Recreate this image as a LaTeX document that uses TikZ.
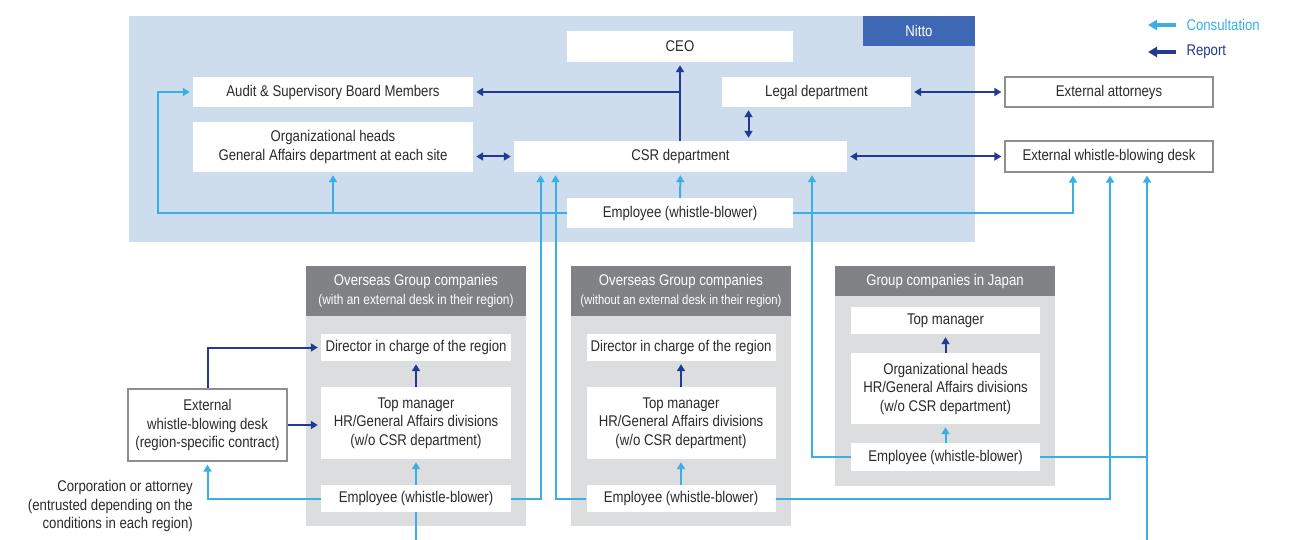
\documentclass[tikz,border=0pt]{standalone}
\usepackage{fontspec}
\setmainfont{Liberation Sans}[FakeStretch=0.85]
\usetikzlibrary{arrows.meta,positioning}
\definecolor{consultc}{HTML}{3BAEE6}
\definecolor{reportc}{HTML}{213B92}
\definecolor{nittobg}{HTML}{CEDDEE}
\definecolor{nittotag}{HTML}{3E68B3}
\definecolor{groupbg}{HTML}{DCDDDE}
\definecolor{grouphd}{HTML}{808285}
\definecolor{deskline}{HTML}{8E8E8E}
\definecolor{txt}{HTML}{2B2B2B}

\tikzset{
  unit/.style={fill=white, inner sep=0pt, align=center, text=txt},
  extbox/.style={unit, draw=deskline, line width=1.2pt},
  grp/.style={fill=groupbg, minimum width=220pt, inner sep=0pt},
  hdr/.style={fill=grouphd, text=white, minimum width=220pt, inner sep=0pt, align=center},
  consult/.style={consultc, line width=2pt, ->, shorten >=3pt},
  report/.style={reportc, line width=2pt, ->, shorten >=3pt},
  both/.style={reportc, line width=2pt, <->, shorten >=3pt, shorten <=3pt},
  plain/.style={consultc, line width=2pt},
}

\begin{document}
\begin{tikzpicture}[x=1pt, y=-1pt, node distance=75.5pt, on grid,
    >={Triangle[length=7pt,width=8pt]},
    font=\fontsize{15.5}{18.5}\selectfont]
	\useasboundingbox (0,0) rectangle (1297,540);

	% Nitto
	\node[fill=nittobg, minimum width=846pt, minimum height=226pt, inner sep=0pt] (nitto) at (552,129) {};
	\node[fill=nittotag, text=white, minimum width=112pt, minimum height=30pt, inner sep=0pt, anchor=north east] (tag) at (nitto.north east) {Nitto};
	\node[unit, minimum width=226pt, minimum height=31pt] (ceo) at (680,46.5) {CEO};
	\node[unit, minimum width=280pt, minimum height=30pt] (audit) at (333,92) {Audit \& Supervisory Board Members};
	\node[unit, minimum width=189pt, minimum height=30pt] (legal) at (816.5,92) {Legal department};
	\node[unit, minimum width=280pt, minimum height=50pt] (org) at (333,147) {Organizational heads\\General Affairs department at each site};
	\node[unit, minimum width=333pt, minimum height=31pt] (csr) at (680.5,156.5) {CSR department};
	\node[unit, minimum width=226pt, minimum height=30pt] (emp) at (680,213) {Employee (whistle-blower)};
	\node[extbox, minimum width=208pt, minimum height=30pt] (extatt) at (1109,92) {External attorneys};
	\node[extbox, minimum width=208pt, minimum height=31pt] (extdesk) at (1109,156.5) {External whistle-blowing desk};

	% legend
	\node[anchor=west, text=consultc] (lgc) at (1183,25) {Consultation};
	\node[anchor=west, text=reportc] (lgr) at (1183,52) {Report};
	\draw[consult, line width=3.5pt, shorten >=0pt, -{Triangle[length=9pt,width=10pt]}] ([xshift=-7pt]lgc.west) -- ([xshift=-35pt]lgc.west);
	\draw[report, line width=3.5pt, shorten >=0pt, -{Triangle[length=9pt,width=10pt]}] ([xshift=-7pt]lgr.west) -- ([xshift=-35pt]lgr.west);

	% overseas, with external desk
	\node[grp, minimum height=260pt] (grpA) at (416,396) {};
	\node[hdr, minimum height=50pt, anchor=north] (hdrA) at (grpA.north) {\fontsize{15.5}{19}\selectfont Overseas Group companies\\\fontsize{14}{19}\selectfont (with an external desk in their region)};
	\node[unit, minimum width=190pt, minimum height=27pt] (dirA) at (416,347.5) {Director in charge of the region};
	\node[unit, minimum width=190pt, minimum height=72pt, below=of dirA] (topA) {Top manager\\HR/General Affairs divisions\\(w/o CSR department)};
	\node[unit, minimum width=190pt, minimum height=27pt, below=of topA] (empA) {Employee (whistle-blower)};
	\node[extbox, minimum width=159pt, minimum height=72pt] (regdesk) at (207.5,425) {External\\whistle-blowing desk\\(region-specific contract)};
	\node[align=right, text=txt, anchor=east, inner sep=0pt] (corp) at (193,506) {Corporation or attorney\\(entrusted depending on the\\conditions in each region)};

	% overseas, without external desk
	\node[grp, minimum height=260pt, right=265pt of grpA] (grpB) {};
	\node[hdr, minimum height=50pt, anchor=north] (hdrB) at (grpB.north) {\fontsize{15.5}{19}\selectfont Overseas Group companies\\\fontsize{13.3}{19}\selectfont (without an external desk in their region)};
	\node[unit, minimum width=189pt, minimum height=27pt, right=265pt of dirA] (dirB) {Director in charge of the region};
	\node[unit, minimum width=189pt, minimum height=72pt, below=of dirB] (topB) {Top manager\\HR/General Affairs divisions\\(w/o CSR department)};
	\node[unit, minimum width=189pt, minimum height=27pt, below=of topB] (empB) {Employee (whistle-blower)};

	% Japan
	\node[grp, minimum height=220pt] (grpC) at (945,376) {};
	\node[hdr, minimum height=30pt, anchor=north] (hdrC) at (grpC.north) {\fontsize{15.5}{19}\selectfont Group companies in Japan};
	\node[unit, minimum width=189pt, minimum height=27pt] (topC) at (945.5,320.5) {Top manager};
	\node[unit, minimum width=189pt, minimum height=71pt, below=68pt of topC] (orgC) {Organizational heads\\HR/General Affairs divisions\\(w/o CSR department)};
	\node[unit, minimum width=189pt, minimum height=28pt, below=68.5pt of orgC] (empC) {Employee (whistle-blower)};

	\coordinate (lturn) at (158,213);
	\coordinate (outA) at (416,540);
	\coordinate (outC) at (1147,540);

	% report
	\path[report] (csr.north -| ceo.south) edge (ceo.south)
			  (topA) edge (dirA)
			  (topB) edge (dirB)
			  (orgC) edge (topC)
			  (regdesk.east) edge (regdesk.east -| topA.west);
	\draw[report] (ceo.south |- audit.east) -- (audit.east);
	\draw[report] (regdesk.north) |- (dirA.west);
	\path[both] (legal.east) edge (extatt.west)
			  (csr.east) edge (extdesk.west)
			  (csr.west) edge (csr.west -| org.east)
			  ([xshift=-68pt]legal.south) edge ([xshift=-68pt]legal.south |- csr.north);

	% consultation
	\path[consult] (emp) edge (csr)
			  (org.south |- emp.west) edge (org.south)
			  (empA) edge (topA)
			  (empB) edge (topB)
			  (empC) edge (orgC);
	\draw[consult] (emp.west) -- (lturn) |- (audit.west);
	\draw[consult] (emp.east) -| ([xshift=-36pt]extdesk.south);
	\draw[consult] (empA.west) -| (regdesk.south);
	\draw[consult] (empA.east) -| ([xshift=-140pt]csr.south);
	\draw[consult] (empB.west) -| ([xshift=-125pt]csr.south);
	\draw[consult] (empC.west) -| ([xshift=131.5pt]csr.south);
	\draw[consult] (empB.east) -| ([xshift=1pt]extdesk.south);
	\draw[consult] (empC.east) -| ([xshift=38pt]extdesk.south);
	\draw[plain] (outA) -- (empA.south);
	\draw[plain] (outC) -- (outC |- empC.east);
\end{tikzpicture}
\end{document}
